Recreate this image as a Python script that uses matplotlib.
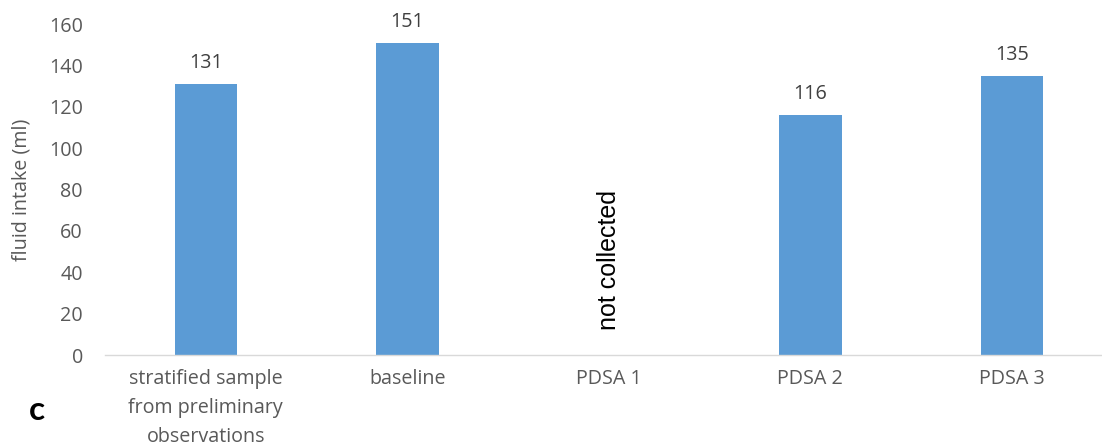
import matplotlib.pyplot as plt

# chart data
categories = ["stratified sample\nfrom preliminary\nobservations", "baseline",
              "PDSA 1", "PDSA 2", "PDSA 3"]
values = [131, 151, None, 116, 135]
missing_note = "not collected"

FONT = "Open Sans"
SIZE = 14.2

fig = plt.figure(figsize=(11.02, 4.47), dpi=100)
ax = fig.add_axes([0.0953, 0.2058, 0.9047, 0.7405])

xs = list(range(len(categories)))
for x, v in zip(xs, values):
    if v is None:
        # no bar, just the note
        ax.text(x, 46, missing_note, rotation=90, ha="center", va="center",
                fontsize=18, family="Liberation Sans", color="black")
        continue
    ax.bar(x, v, width=0.31, color="#5B9BD5")
    ax.annotate(str(v), (x, v), xytext=(0, 8), textcoords="offset points",
                ha="center", va="bottom", fontsize=SIZE, family=FONT,
                color="#404040", annotation_clip=False)

ax.set_xlim(-0.5, 4.447)
ax.set_ylim(0, 160)
ax.set_yticks(range(0, 161, 20))
ax.set_xticks(xs)
ax.set_xticklabels(categories, linespacing=1.6)

for lab in ax.get_xticklabels() + ax.get_yticklabels():
    lab.set_family(FONT)
    lab.set_fontsize(SIZE)
    lab.set_color("#595959")

ax.tick_params(axis="both", length=0)
ax.tick_params(axis="x", pad=10)
ax.tick_params(axis="y", pad=16)

for side in ["top", "right", "left"]:
    ax.spines[side].set_visible(False)
ax.spines["bottom"].set_color("#D9D9D9")
ax.spines["bottom"].set_linewidth(1)

ax.set_ylabel("fluid intake (ml)", fontsize=SIZE, family=FONT, color="#595959")
ax.yaxis.set_label_coords(-0.0742, 0.5)

fig.text(37 / 1102, 1 - 410 / 447, "c", fontsize=24, fontweight="bold",
         family="Lato", ha="center", va="center")

fig.savefig("out.png", dpi=100)
